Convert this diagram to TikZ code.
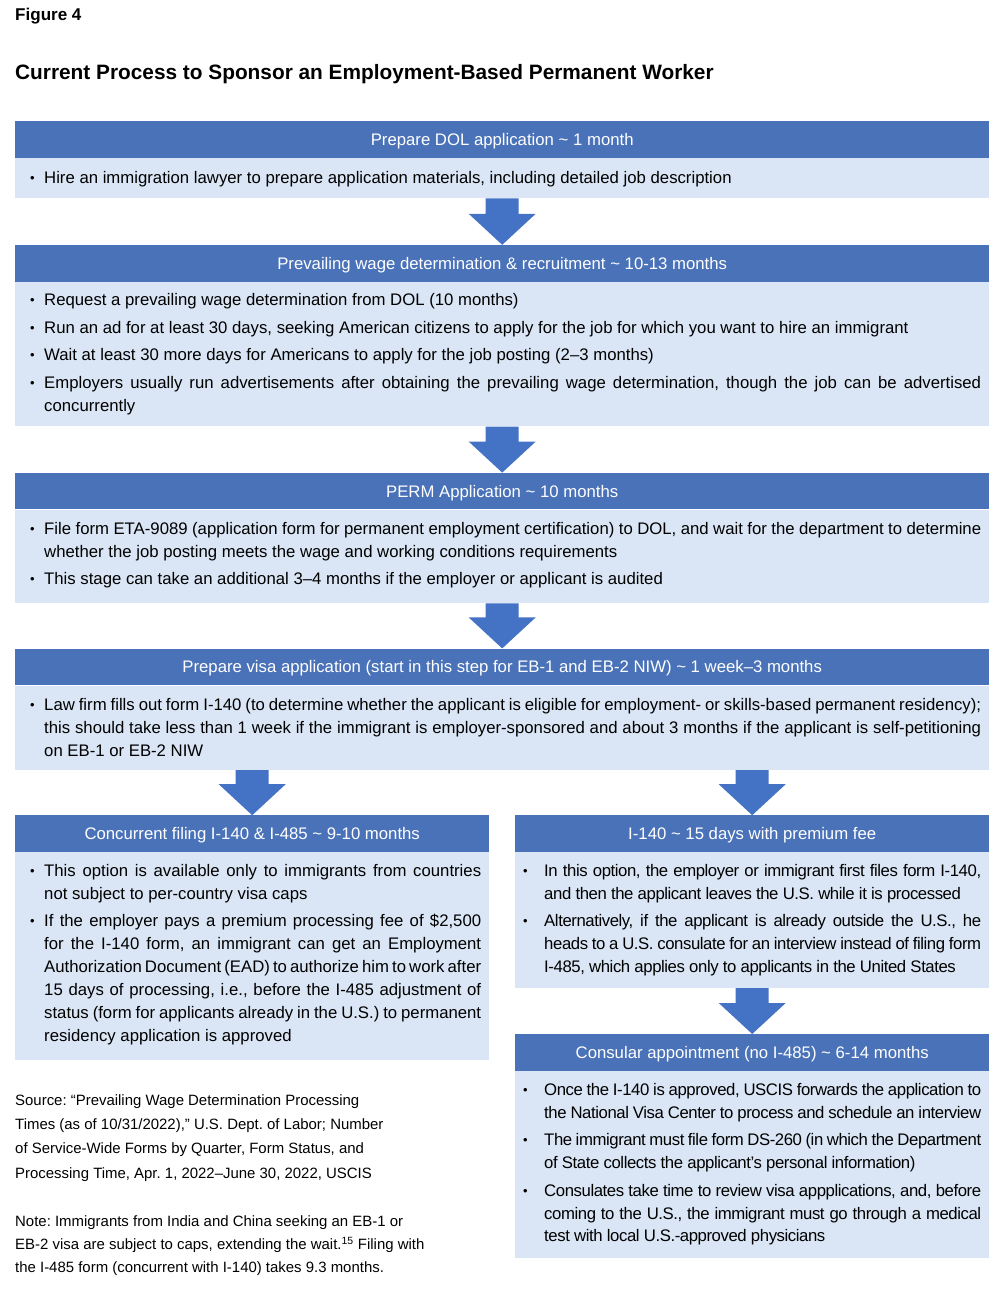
\documentclass[tikz,border=0pt]{standalone}
\usepackage{fontspec}
\setmainfont{Liberation Sans}
\newfontfamily\serre{Liberation Sans}[LetterSpace=-2.5]
\usetikzlibrary{positioning,calc}

\definecolor{bleuentete}{RGB}{74,114,184}
\definecolor{bleucorps}{RGB}{218,230,245}
\definecolor{bleufleche}{RGB}{68,114,196}

\newlength\retrait
\newcommand{\puce}[1]{\par\hangindent=\retrait\hangafter=1\noindent\makebox[\retrait][l]{\raisebox{1pt}{\fontsize{13}{13}\selectfont\textbullet}}#1\par}
% remonte le texte dans la boite
\newcommand{\decal}[1]{\par\kern#1\relax}
% #1 largeur, #2 marge gauche, #3 retrait de la puce, #4 police, #5 texte
\newcommand{\liste}[5]{\begin{minipage}{#1}\fontsize{16.8}{23}\selectfont#4\leftskip=#2\retrait=#3\parskip=4.5bp\frenchspacing\hyphenpenalty=10000\exhyphenpenalty=10000\relax #5\end{minipage}}

\begin{document}
\begin{tikzpicture}[x=1bp,y=-1bp,
  entete/.style={fill=bleuentete,text=white,inner sep=0pt,minimum height=36.5bp,text height=12.2pt,text depth=0pt,font=\fontsize{16.8}{20}\selectfont},
  corps/.style={fill=bleucorps,inner sep=0pt},
  large/.style={minimum width=974bp},
  demi/.style={minimum width=474bp},
  pied/.style={anchor=north west,inner sep=0pt,align=left,execute at begin node=\frenchspacing}]
\useasboundingbox (0,0) rectangle (990,1295);
% les titres
\node[anchor=base west,inner sep=0pt,font=\bfseries\fontsize{17.1}{20}\selectfont] (figure) at (15,20.7) {Figure 4};
\node[anchor=base west,inner sep=0pt,font=\bfseries\fontsize{20.9}{24}\selectfont] (titre) at (15,79.7) {Current Process to Sponsor an Employment-Based Permanent Worker};
% etape 1
\node[entete,large,anchor=north west] (e1) at (15,121) {Prepare DOL application \textasciitilde{} 1 month};
\node[corps,large,minimum height=40bp,below=0pt of e1] (c1) {\liste{958bp}{7bp}{14bp}{}{\kern2pt
\puce{Hire an immigration lawyer to prepare application materials, including detailed job description}}};
% etape 2
\node[entete,large,below=46.5bp of c1] (e2) {Prevailing wage determination \& recruitment \textasciitilde{} 10-13 months};
\node[corps,large,minimum height=144.5bp,below=0pt of e2] (c2) {\liste{958bp}{7bp}{14bp}{}{%
\puce{Request a prevailing wage determination from DOL (10 months)}
\puce{Run an ad for at least 30 days, seeking American citizens to apply for the job for which you want to hire an immigrant}
\puce{Wait at least 30 more days for Americans to apply for the job posting (2–3 months)}
\puce{Employers usually run advertisements after obtaining the prevailing wage determination, though the job can be advertised\linebreak concurrently}}};
% etape 3
\node[entete,large,below=46bp of c2] (e3) {PERM Application \textasciitilde{} 10 months};
\node[corps,large,minimum height=93.5bp,below=0pt of e3] (c3) {\liste{958bp}{7bp}{14bp}{}{%
\puce{File form ETA-9089 (application form for permanent employment certification) to DOL, and wait for the department to determine\linebreak whether the job posting meets the wage and working conditions requirements}
\puce{This stage can take an additional 3–4 months if the employer or applicant is audited}\decal{2pt}}};
% etape 4
\node[entete,large,below=45bp of c3] (e4) {Prepare visa application (start in this step for EB-1 and EB-2 NIW) \textasciitilde{} 1 week–3 months};
\node[corps,large,minimum height=84.5bp,below=0pt of e4] (c4) {\liste{958bp}{7bp}{14bp}{}{%
\puce{Law firm fills out form I-140 (to determine whether the applicant is eligible for employment- or skills-based permanent residency);\linebreak this should take less than 1 week if the immigrant is employer-sponsored and about 3 months if the applicant is self-petitioning\linebreak on EB-1 or EB-2 NIW}}};
% etape 5 : deux voies
\node[entete,demi,below=45bp of c4.south west,anchor=north west] (e5g) {Concurrent filing I-140 \& I-485 \textasciitilde{} 9-10 months};
\node[corps,demi,minimum height=207.5bp,below=0pt of e5g] (c5g) {\liste{458bp}{7bp}{14bp}{}{%
\puce{This option is available only to immigrants from countries\linebreak not subject to per-country visa caps}
\puce{If the employer pays a premium processing fee of \$2,500\linebreak for the I-140 form, an immigrant can get an Employment\linebreak Authorization Document (EAD) to authorize him to work after\linebreak 15 days of processing, i.e., before the I-485 adjustment of\linebreak status (form for applicants already in the U.S.) to permanent\linebreak residency application is approved}\decal{3pt}}};
\node[entete,demi,below=45bp of c4.south east,anchor=north east] (e5d) {I-140 \textasciitilde{} 15 days with premium fee};
\node[corps,demi,minimum height=135.5bp,below=0pt of e5d] (c5d) {\liste{458bp}{0bp}{21bp}{\serre}{%
\puce{In this option, the employer or immigrant first files form I-140,\linebreak and then the applicant leaves the U.S. while it is processed}
\puce{Alternatively, if the applicant is already outside the U.S., he\linebreak heads to a U.S. consulate for an interview instead of filing form\linebreak I-485, which applies only to applicants in the United States}}};
% etape 6
\node[entete,demi,below=46bp of c5d] (e6) {Consular appointment (no I-485) \textasciitilde{} 6-14 months};
\node[corps,demi,minimum height=186.5bp,below=0pt of e6] (c6) {\liste{458bp}{0bp}{21bp}{\serre}{%
\puce{Once the I-140 is approved, USCIS forwards the application to\linebreak the National Visa Center to process and schedule an interview}
\puce{The immigrant must file form DS-260 (in which the Department\linebreak of State collects the applicant’s personal information)}
\puce{Consulates take time to review visa appplications, and, before\linebreak coming to the U.S., the immigrant must go through a medical\linebreak test with local U.S.-approved physicians}}};
% les fleches
\coordinate (g4) at (c4.south -| e5g.north);
\coordinate (d4) at (c4.south -| e5d.north);
\foreach \de/\vers in {c1.south/e2.north,c2.south/e3.north,c3.south/e4.north,g4/e5g.north,d4/e5d.north,c5d.south/e6.north}
  \fill[bleufleche] ($(\de)+(-16.5bp,0)$) -- ($(\de)+(16.5bp,0)$) -- ($(\vers)+(16.5bp,31bp)$) -- ($(\vers)+(33.5bp,31bp)$) -- (\vers) -- ($(\vers)+(-33.5bp,31bp)$) -- ($(\vers)+(-16.5bp,31bp)$) -- cycle;
% sources et note
\node[pied,font=\fontsize{15}{24.5}\selectfont] (source) at (15,1094) {Source: “Prevailing Wage Determination Processing\\Times (as of 10/31/2022),” U.S. Dept. of Labor; Number\\of Service-Wide Forms by Quarter, Form Status, and\\Processing Time, Apr. 1, 2022–June 30, 2022, USCIS};
\node[pied,font=\fontsize{15}{23}\selectfont] (note) at (15,1215.8) {Note: Immigrants from India and China seeking an EB-1 or\\EB-2 visa are subject to caps, extending the wait.\textsuperscript{15} Filing with\\the I-485 form (concurrent with I-140) takes 9.3 months.};
\end{tikzpicture}
\end{document}
